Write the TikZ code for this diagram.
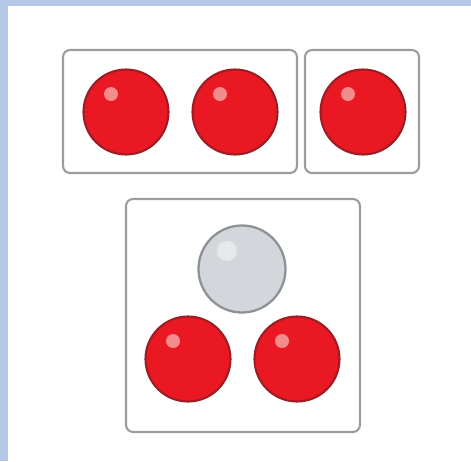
\documentclass[tikz,border=0pt]{standalone}
\usepackage{tikz}

\definecolor{frameblue}{HTML}{B6C8E8}
\definecolor{boxgray}{HTML}{9C9C9C}
\definecolor{ballred}{HTML}{EA1822}
\definecolor{rimred}{HTML}{9E1C24}
\definecolor{hilite}{HTML}{F58C8C}
\definecolor{ballgray}{HTML}{D3D6DA}
\definecolor{rimgray}{HTML}{8E9296}

\tikzset{
    groupbox/.style={draw=boxgray, line width=1.2pt, rounded corners=4pt, fill=white},
    redball/.style={circle, draw=rimred, line width=1.2pt, fill=ballred, minimum size=1.7cm, inner sep=0pt,
        path picture={\fill[hilite] ([shift={(-0.3cm,0.36cm)}]path picture bounding box.center) circle (0.14cm);}},
    grayball/.style={circle, draw=rimgray, line width=1.3pt, fill=ballgray, minimum size=1.74cm, inner sep=0pt,
        path picture={\fill[white, opacity=0.45] ([shift={(-0.3cm,0.36cm)}]path picture bounding box.center) circle (0.2cm);}}
}

\begin{document}
\begin{tikzpicture}[x=0.02cm, y=-0.02cm]
    % ===== background with frame =====
    \fill[frameblue] (0, 0) rectangle (471, 461);
    \fill[white] (8, 6) rectangle (471, 461);
    \useasboundingbox (0, 0) rectangle (471, 461);

    % ===== top row: 2 + 1 =====
    \node[groupbox, minimum width=4.68cm, minimum height=2.46cm] (pair) at (180, 111.5) {};
    \node[groupbox, minimum width=2.28cm, minimum height=2.46cm] (single) at (362, 111.5) {};

    \node[redball] (r1) at (126, 112) {};
    \node[redball] (r2) at (235, 112) {};
    \node[redball] (r3) at (363, 112) {};

    % ===== bottom box: gray ball over two red ones =====
    \node[groupbox, minimum width=4.68cm, minimum height=4.66cm] (group) at (243, 315.5) {};

    \node[grayball] (g1) at (242, 269) {};
    \node[redball] (r4) at (188, 359) {};
    \node[redball] (r5) at (297, 359) {};
\end{tikzpicture}
\end{document}
